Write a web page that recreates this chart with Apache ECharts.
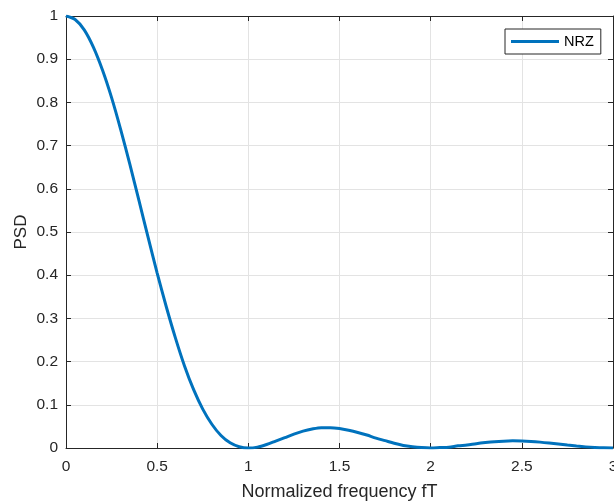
<!DOCTYPE html>
<html>
<head>
<meta charset="utf-8">
<script src="https://cdn.jsdelivr.net/npm/echarts@6/dist/echarts.min.js"></script>
<style>
  html, body { margin: 0; padding: 0; background: #fff; }
  #chart { width: 614px; height: 503px; }
</style>
</head>
<body>
<div id="chart"></div>
<script>
// normalized frequency fT
const freq = [
  0, 0.05, 0.1, 0.15, 0.2, 0.25, 0.3, 0.35, 0.4, 0.45,
  0.5, 0.55, 0.6, 0.65, 0.7, 0.75, 0.8, 0.85, 0.9, 0.95,
  1, 1.05, 1.1, 1.15, 1.2, 1.25, 1.3, 1.35, 1.4, 1.45,
  1.5, 1.55, 1.6, 1.65, 1.7, 1.75, 1.8, 1.85, 1.9, 1.95,
  2, 2.05, 2.1, 2.15, 2.2, 2.25, 2.3, 2.35, 2.4, 2.45,
  2.5, 2.55, 2.6, 2.65, 2.7, 2.75, 2.8, 2.85, 2.9, 2.95, 3
]
// PSD of NRZ
const psdNRZ = [
  1, 0.992, 0.968, 0.928, 0.875, 0.811, 0.737, 0.657, 0.573, 0.488,
  0.405, 0.327, 0.255, 0.190, 0.135, 0.090, 0.055, 0.029, 0.012, 0.003,
  0, 0.002, 0.008, 0.016, 0.024, 0.032, 0.039, 0.044, 0.047, 0.047,
  0.045, 0.041, 0.036, 0.030, 0.023, 0.017, 0.011, 0.006, 0.003, 0.001,
  0, 0.001, 0.002, 0.005, 0.007, 0.010, 0.0125, 0.0146, 0.0159, 0.0165,
  0.0162, 0.0152, 0.0136, 0.0115, 0.0091, 0.0067, 0.0045, 0.0026, 0.0012, 0.0003, 0
]
const xTicks = { min: 0, max: 3, interval: 0.5 }
const yTicks = { min: 0, max: 1, interval: 0.1 }

const ink = '#262626'
const font = 'Liberation Sans, Arial, Helvetica, sans-serif'

const chart = echarts.init(document.getElementById('chart'))

const tickStyle = { show: true, inside: true, length: 5, lineStyle: { color: ink, width: 1 } }
const lineStyle = { show: true, onZero: false, lineStyle: { color: ink, width: 1 } }
const gridLine = { show: true, lineStyle: { color: '#e3e3e3', width: 1 } }

chart.setOption({
  animation: false,
  grid: { left: 66, right: 1, top: 16, bottom: 55, containLabel: false, outerBoundsMode: 'none' },
  legend: {
    left: 505,
    top: 29,
    padding: [5, 7, 5, 6],
    itemWidth: 48,
    itemHeight: 3,
    icon: 'rect',
    borderColor: ink,
    borderWidth: 1,
    borderRadius: 0,
    backgroundColor: '#fff',
    textStyle: { color: '#000', fontFamily: font, fontSize: 14.5, lineHeight: 15 },
    data: ['NRZ'],
  },
  xAxis: [
    {
      type: 'value',
      ...xTicks,
      position: 'bottom',
      name: 'Normalized frequency fT',
      nameLocation: 'middle',
      nameGap: 35,
      nameMoveOverlap: false,
      nameTextStyle: { color: ink, fontFamily: font, fontSize: 18 },
      axisLine: lineStyle,
      axisTick: tickStyle,
      splitLine: gridLine,
      axisLabel: { color: ink, fontFamily: font, fontSize: 15.5, margin: 11 },
    },
    {
      type: 'value',
      ...xTicks,
      position: 'top',
      axisLine: lineStyle,
      axisTick: tickStyle,
      splitLine: { show: false },
      axisLabel: { show: false },
    },
  ],
  yAxis: [
    {
      type: 'value',
      ...yTicks,
      position: 'left',
      name: 'PSD',
      nameLocation: 'middle',
      nameGap: 36.5,
      nameMoveOverlap: false,
      nameTextStyle: { color: ink, fontFamily: font, fontSize: 17 },
      axisLine: lineStyle,
      axisTick: tickStyle,
      splitLine: gridLine,
      axisLabel: { color: ink, fontFamily: font, fontSize: 15.5, margin: 8 },
    },
    {
      type: 'value',
      ...yTicks,
      position: 'right',
      axisLine: lineStyle,
      axisTick: tickStyle,
      splitLine: { show: false },
      axisLabel: { show: false },
    },
  ],
  series: [{
    name: 'NRZ',
    type: 'line',
    data: freq.map((f, i) => [f, psdNRZ[i]]),
    symbol: 'none',
    smooth: 0.3,
    lineStyle: { color: '#0072BD', width: 3 },
    itemStyle: { color: '#0072BD' },
  }],
})
</script>
</body>
</html>
